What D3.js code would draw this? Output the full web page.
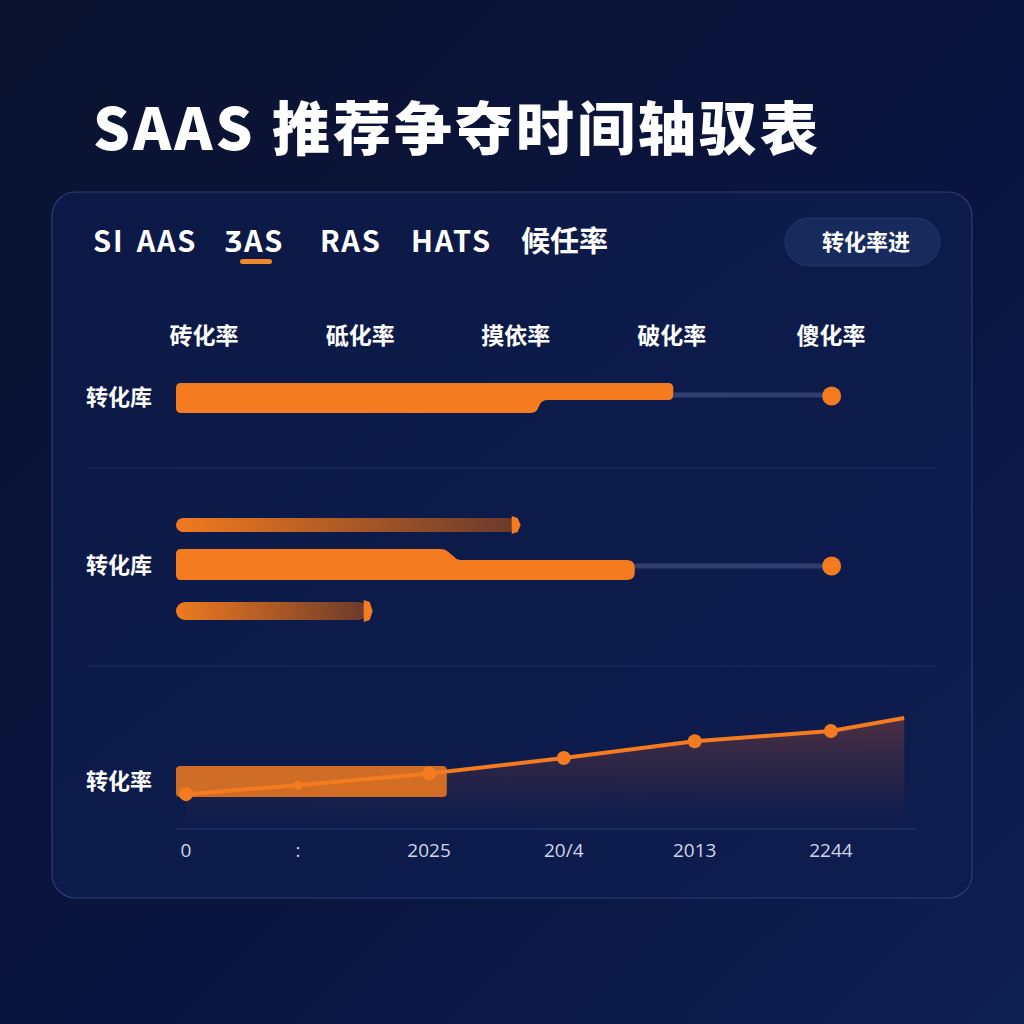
<!DOCTYPE html>
<html><head><meta charset="utf-8">
<script src="https://cdn.jsdelivr.net/npm/d3@7"></script>
<style>html,body{margin:0;padding:0;background:#0a1332;}svg{display:block;}</style>
</head><body>
<script>
// ---- data ----
const title = "SAAS 推荐争夺时间轴驭表";
const tabs = ["SI AAS", "ƷAS", "RAS", "HATS", "候任率"];
const activeTab = 1;
const buttonLabel = "转化率进";
const columnLabels = ["砖化率", "砥化率", "摸依率", "破化率", "傻化率"];
const columnPos = [3.8, 24.9, 45.9, 67.0, 88.5];
const rowLabels = ["转化库", "转化库", "转化率"];
// row 1: main bar [start, step, end], target dot
const row1Bar = {start: 0, step: 49.2, end: 67.2, target: 88.6};
// row 2: main bar, plus two gradient bars
const row2Bar = {start: 0, step: 36.4, end: 62.0, target: 88.6};
const row2Thin = [{start: 0, end: 45.9}, {start: 0, end: 25.9}];
// row 3: highlight range and line series
const row3Range = {start: 0, end: 36.6};
const lineX = [1.35, 16.5, 34.2, 52.4, 70.1, 88.5, 98.4];
const lineY = [27, 34, 43, 55, 68, 76, 86];
const tickPos = [1.35, 16.5, 34.2, 52.4, 70.1, 88.5];
const tickLabels = ["0", ":", "2025", "20/4", "2013", "2244"];

// ---- drawing ----
const W = 1024, H = 1024;
const svg = d3.select("body").append("svg").attr("width", W).attr("height", H);
const defs = svg.append("defs");

const bg = defs.append("linearGradient").attr("id","bg").attr("x1","0").attr("y1","0").attr("x2","1").attr("y2","1");
bg.append("stop").attr("offset","0").attr("stop-color","#0b1330");
bg.append("stop").attr("offset","0.6").attr("stop-color","#0a1540");
bg.append("stop").attr("offset","1").attr("stop-color","#0e1f52");
svg.append("rect").attr("width",W).attr("height",H).attr("fill","url(#bg)");

const cardG = defs.append("linearGradient").attr("id","card").attr("x1","0").attr("y1","0").attr("x2","1").attr("y2","1");
cardG.append("stop").attr("offset","0").attr("stop-color","#0c1946");
cardG.append("stop").attr("offset","1").attr("stop-color","#0e1d4f");

const thinG = defs.append("linearGradient").attr("id","thin").attr("x1","0").attr("x2","1").attr("y1","0").attr("y2","0");
thinG.append("stop").attr("offset","0").attr("stop-color","#f07a1f");
thinG.append("stop").attr("offset","1").attr("stop-color","#6a3a2c");

const areaG = defs.append("linearGradient").attr("id","area").attr("x1","0").attr("x2","0").attr("y1","0").attr("y2","1");
areaG.append("stop").attr("offset","0").attr("stop-color","#5a3340").attr("stop-opacity",0.85);
areaG.append("stop").attr("offset","0.6").attr("stop-color","#2e2645").attr("stop-opacity",0.6);
areaG.append("stop").attr("offset","1").attr("stop-color","#12204e").attr("stop-opacity",0.2);

const font = "'Noto Sans CJK SC','Noto Sans',sans-serif";

// title
svg.append("text").attr("x",93).attr("y",150).text(title)
  .attr("fill","#ffffff").attr("font-family",font).attr("font-weight",900).attr("font-size",58)
  .attr("letter-spacing",3);

// card
svg.append("rect").attr("x",52).attr("y",192).attr("width",920).attr("height",706).attr("rx",24)
  .attr("fill","url(#card)").attr("stroke","#2a3d75").attr("stroke-width",1.2);

// tabs
const tabX = [93, 225, 320, 411, 521];
const tabG = svg.append("g");
tabs.forEach((t,i)=>{
  tabG.append("text").attr("x",tabX[i]).attr("y",252).text(t)
    .attr("fill","#ffffff").attr("font-family",font).attr("font-weight",700).attr("font-size",29)
    .attr("letter-spacing",i===4?0:1.8).attr("word-spacing",4);
});
svg.append("rect").attr("x",240).attr("y",259).attr("width",32).attr("height",5).attr("rx",2.5).attr("fill","#f0892a");

// button
svg.append("rect").attr("x",785).attr("y",218).attr("width",155).attr("height",48).attr("rx",24)
  .attr("fill","#172a5c").attr("stroke","#22366b");
svg.append("text").attr("x",866).attr("y",250).attr("text-anchor","middle").text(buttonLabel)
  .attr("fill","#ffffff").attr("font-family",font).attr("font-weight",700).attr("font-size",22);

// scale
const x = d3.scaleLinear().domain([0,100]).range([176,916]);

// column headers
svg.append("g").selectAll("text").data(columnLabels).join("text")
  .attr("x",(d,i)=>x(columnPos[i])).attr("y",344).attr("text-anchor","middle").text(d=>d)
  .attr("fill","#ffffff").attr("font-family",font).attr("font-weight",700).attr("font-size",23);

// row labels
const rowLabelY = [405, 573, 789];
svg.append("g").selectAll("text").data(rowLabels).join("text")
  .attr("x",86).attr("y",(d,i)=>rowLabelY[i]).text(d=>d)
  .attr("fill","#ffffff").attr("font-family",font).attr("font-weight",700).attr("font-size",22);

// dividers
[468, 666].forEach(y=>{
  svg.append("line").attr("x1",88).attr("x2",936).attr("y1",y).attr("y2",y).attr("stroke","#1f2f62").attr("stroke-width",1.2);
});

const orange = "#f47b20";

function steppedBarBottom(b, yTop, yBot, yStepBot){
  const x0=x(b.start), xs=x(b.step), xe=x(b.end), r=5;
  const p = d3.path();
  p.moveTo(x0+r,yTop);
  p.lineTo(xe-r,yTop); p.quadraticCurveTo(xe,yTop,xe,yTop+r);
  p.lineTo(xe,yStepBot-r); p.quadraticCurveTo(xe,yStepBot,xe-r,yStepBot);
  p.lineTo(xs+8,yStepBot); p.quadraticCurveTo(xs+2,yStepBot,xs,yStepBot+4);
  p.lineTo(xs-3,yBot-3); p.quadraticCurveTo(xs-5,yBot,xs-10,yBot);
  p.lineTo(x0+r,yBot); p.quadraticCurveTo(x0,yBot,x0,yBot-r);
  p.lineTo(x0,yTop+r); p.quadraticCurveTo(x0,yTop,x0+r,yTop);
  p.closePath();
  return p.toString();
}
function steppedBarTop(b, yTop, yBot, yStepTop){
  const x0=x(b.start), xs=x(b.step), xe=x(b.end), r=5;
  const p = d3.path();
  p.moveTo(x0+r,yTop);
  p.lineTo(xs-r,yTop); p.quadraticCurveTo(xs,yTop,xs+3,yTop+3);
  p.lineTo(xs+9,yStepTop-3); p.quadraticCurveTo(xs+11,yStepTop,xs+16,yStepTop);
  p.lineTo(xe-8,yStepTop); p.quadraticCurveTo(xe,yStepTop,xe,yStepTop+8);
  p.lineTo(xe,yBot-8); p.quadraticCurveTo(xe,yBot,xe-8,yBot);
  p.lineTo(x0+r,yBot); p.quadraticCurveTo(x0,yBot,x0,yBot-r);
  p.lineTo(x0,yTop+r); p.quadraticCurveTo(x0,yTop,x0+r,yTop);
  p.closePath();
  return p.toString();
}

// row 1
svg.append("line").attr("x1",x(row1Bar.end)).attr("x2",x(row1Bar.target)).attr("y1",395).attr("y2",395)
  .attr("stroke","#2f3f6f").attr("stroke-width",5);
svg.append("path").attr("d",steppedBarBottom(row1Bar,383,413,400)).attr("fill",orange);
svg.append("circle").attr("cx",x(row1Bar.target)).attr("cy",396).attr("r",9.5).attr("fill",orange);

// row 2
svg.append("line").attr("x1",x(row2Bar.end)).attr("x2",x(row2Bar.target)).attr("y1",566).attr("y2",566)
  .attr("stroke","#2f3f6f").attr("stroke-width",5);
svg.append("path").attr("d",steppedBarTop(row2Bar,549,580,560)).attr("fill",orange);
svg.append("circle").attr("cx",x(row2Bar.target)).attr("cy",566).attr("r",9.5).attr("fill",orange);

const thinY = [[518,532],[602,620]];
row2Thin.forEach((b,i)=>{
  const [y0,y1]=thinY[i];
  svg.append("rect").attr("x",x(b.start)).attr("y",y0).attr("width",x(b.end)-x(b.start)).attr("height",y1-y0)
    .attr("rx",(y1-y0)/2).attr("fill","url(#thin)");
  const xe=x(b.end);
  svg.append("path").attr("d",`M${xe-4},${y0-2} L${xe+2},${y0} L${xe+5},${(y0+y1)/2} L${xe+2},${y1} L${xe-4},${y1+2} Z`)
    .attr("fill",orange);
});

// row 3
const yL = d3.scaleLinear().domain([0,100]).range([829,700]);
const pts = lineX.map((v,i)=>[v,lineY[i]]);
svg.append("path").datum(pts)
  .attr("d", d3.area().x(d=>x(d[0])).y0(yL(0)).y1(d=>yL(d[1])))
  .attr("fill","url(#area)");
svg.append("rect").attr("x",x(row3Range.start)).attr("y",766).attr("width",x(row3Range.end)-x(row3Range.start)).attr("height",31)
  .attr("rx",4).attr("fill","#f27a1f").attr("opacity",0.85);
svg.append("line").attr("x1",176).attr("x2",916).attr("y1",829).attr("y2",829).attr("stroke","#1e2f60").attr("stroke-width",1.5);
svg.append("path").datum(pts)
  .attr("d", d3.line().x(d=>x(d[0])).y(d=>yL(d[1])))
  .attr("fill","none").attr("stroke",orange).attr("stroke-width",4);
svg.append("g").selectAll("circle").data(pts.slice(0,6)).join("circle")
  .attr("cx",d=>x(d[0])).attr("cy",d=>yL(d[1])).attr("r",(d,i)=>i===1?4.5:7).attr("fill",orange);

// x tick labels
svg.append("g").selectAll("text").data(tickLabels).join("text")
  .attr("x",(d,i)=>x(tickPos[i])).attr("y",857).attr("text-anchor","middle").text(d=>d)
  .attr("fill","#d0d6ea").attr("font-family","'Open Sans','Noto Sans',sans-serif").attr("font-size",19);
</script>
</body></html>
